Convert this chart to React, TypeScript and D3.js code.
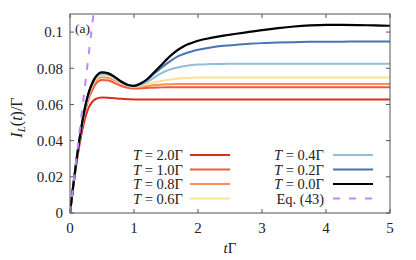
import React from 'react';
import * as d3 from 'd3';

// time grid (in units of 1/Γ)
const times = [0, 0.05, 0.1, 0.15, 0.2, 0.25, 0.3, 0.35, 0.4, 0.5, 0.6, 0.7, 0.8, 0.9, 1.0, 1.1, 1.2, 1.3, 1.4, 1.5, 1.6, 1.7, 1.8, 1.9, 2.0, 2.2, 2.4, 2.6, 2.8, 3.0, 3.25, 3.5, 3.75, 4.0, 4.25, 4.5, 4.75, 5.0];

const seriesT20 = [0, 0.014, 0.027, 0.038, 0.047, 0.054, 0.0588, 0.0615, 0.063, 0.0638, 0.0637, 0.0634, 0.0631, 0.0629, 0.0628, 0.0627, 0.0627, 0.0627, 0.0627, 0.0627, 0.0627, 0.0627, 0.0627, 0.0627, 0.0627, 0.0627, 0.0627, 0.0627, 0.0627, 0.0627, 0.0627, 0.0627, 0.0627, 0.0627, 0.0627, 0.0627, 0.0627, 0.0627];
const seriesT10 = [0, 0.015, 0.028, 0.04, 0.05, 0.058, 0.064, 0.068, 0.0712, 0.0735, 0.0732, 0.0718, 0.0702, 0.0692, 0.0688, 0.0689, 0.0691, 0.0693, 0.0694, 0.0695, 0.0695, 0.0695, 0.0695, 0.0695, 0.0695, 0.0695, 0.0695, 0.0695, 0.0695, 0.0695, 0.0695, 0.0695, 0.0695, 0.0695, 0.0695, 0.0695, 0.0695, 0.0695];
const seriesT08 = [0, 0.015, 0.0285, 0.0405, 0.0505, 0.059, 0.0652, 0.0697, 0.0727, 0.075, 0.0747, 0.0733, 0.0716, 0.0702, 0.0697, 0.0698, 0.0702, 0.0706, 0.0709, 0.0711, 0.0712, 0.0713, 0.0713, 0.0713, 0.0713, 0.0713, 0.0713, 0.0713, 0.0713, 0.0713, 0.0713, 0.0713, 0.0713, 0.0713, 0.0713, 0.0713, 0.0713, 0.0713];
const seriesT06 = [0, 0.015, 0.0288, 0.0408, 0.051, 0.0598, 0.0662, 0.0708, 0.0738, 0.0762, 0.0758, 0.0741, 0.072, 0.0703, 0.0698, 0.0703, 0.0712, 0.072, 0.0728, 0.0734, 0.0739, 0.0743, 0.0746, 0.0748, 0.0749, 0.0749, 0.0749, 0.0749, 0.0749, 0.0749, 0.0749, 0.0749, 0.0749, 0.0749, 0.0749, 0.0749, 0.0749, 0.0749];
const seriesT04 = [0, 0.015, 0.0289, 0.041, 0.0515, 0.0602, 0.0668, 0.0714, 0.0746, 0.077, 0.0765, 0.0747, 0.0724, 0.0706, 0.0701, 0.0708, 0.0723, 0.0745, 0.0768, 0.0785, 0.0797, 0.0806, 0.0813, 0.0818, 0.0821, 0.0823, 0.0824, 0.0825, 0.0825, 0.0825, 0.0825, 0.0825, 0.0825, 0.0825, 0.0825, 0.0825, 0.0825, 0.0825];
const seriesT02 = [0, 0.015, 0.029, 0.041, 0.0518, 0.0606, 0.0672, 0.0718, 0.075, 0.0775, 0.077, 0.075, 0.0726, 0.0708, 0.0702, 0.0713, 0.0735, 0.0765, 0.0795, 0.0823, 0.0848, 0.0868, 0.0882, 0.0893, 0.0902, 0.0915, 0.0924, 0.093, 0.0935, 0.0939, 0.0942, 0.0944, 0.0946, 0.0947, 0.0947, 0.0948, 0.0948, 0.0948];
const seriesT00 = [0, 0.015, 0.029, 0.0412, 0.052, 0.061, 0.0675, 0.072, 0.0752, 0.0778, 0.0772, 0.0752, 0.0727, 0.0709, 0.0703, 0.0716, 0.0738, 0.0772, 0.0808, 0.0845, 0.0878, 0.0905, 0.0926, 0.094, 0.0952, 0.0968, 0.098, 0.0991, 0.1001, 0.1011, 0.1022, 0.1031, 0.1037, 0.104, 0.104, 0.1039, 0.1037, 0.1035];

// Eq. (43): linear short-time growth
const eqTimes = [0, 0.4];
const eqValues = [0, 0.12];

const tempValues = ['2.0', '1.0', '0.8', '0.6', '0.4', '0.2', '0.0'];
const colors = ['#d7301f', '#ef5a3a', '#fc8d59', '#fee090', '#91bfdb', '#4575b4', '#000000'];
const allSeries = [seriesT20, seriesT10, seriesT08, seriesT06, seriesT04, seriesT02, seriesT00];

const xTicks = [0, 1, 2, 3, 4, 5];
const yTicks = [0, 0.02, 0.04, 0.06, 0.08, 0.1];

const W = 416;
const H = 260;
const margin = { left: 70, right: 26, top: 14, bottom: 47 };
const font = '"Liberation Serif", "DejaVu Serif", serif';
const axisColor = '#555';

export default function App() {
  const x = d3.scaleLinear().domain([0, 5]).range([margin.left, W - margin.right]);
  const y = d3.scaleLinear().domain([0, 0.11]).range([H - margin.bottom, margin.top]);

  const line = d3.line<[number, number]>()
    .x(d => x(d[0]))
    .y(d => y(d[1]))
    .curve(d3.curveMonotoneX);

  const x0 = x.range()[0], x1 = x.range()[1];
  const y0 = y.range()[0], y1 = y.range()[1];

  // legend layout
  const rowY = (i: number) => 155 + i * 14.5;
  const legendItems = tempValues.map((temp, i) => ({
    temp,
    color: colors[i],
    col: i < 4 ? 0 : 1,
    row: i < 4 ? i : i - 4,
  }));
  const colText = [183, 324];
  const colLine = [[190, 230], [333, 373]];

  return (
    <svg width={W} height={H} style={{ position: 'absolute', left: 0, top: 0, background: '#fff' }}
      fontFamily={font}>
      <defs>
        <clipPath id="plot">
          <rect x={x0} y={y1} width={x1 - x0} height={y0 - y1} />
        </clipPath>
      </defs>

      {/* ticks */}
      {xTicks.map(t => (
        <g key={'xt' + t} stroke={axisColor} strokeWidth={1}>
          <line x1={x(t)} x2={x(t)} y1={y0} y2={y0 - 4} />
          <line x1={x(t)} x2={x(t)} y1={y1} y2={y1 + 4} />
        </g>
      ))}
      {yTicks.map(t => (
        <g key={'yt' + t} stroke={axisColor} strokeWidth={1}>
          <line x1={x0} x2={x0 + 4} y1={y(t)} y2={y(t)} />
          <line x1={x1} x2={x1 - 4} y1={y(t)} y2={y(t)} />
        </g>
      ))}

      {/* tick labels */}
      {xTicks.map(t => (
        <text key={'xl' + t} x={x(t)} y={y0 + 20} textAnchor="middle" fontSize={15} fill="#222">{t}</text>
      ))}
      {yTicks.map(t => (
        <text key={'yl' + t} x={x0 - 7} y={y(t)} dy="0.35em" textAnchor="end" fontSize={15} fill="#222">{t === 0 ? '0' : d3.format('.2~f')(t)}</text>
      ))}

      {/* curves */}
      <g clipPath="url(#plot)">
        {allSeries.map((s, i) => (
          <path key={'c' + i} d={line(times.map((t, j) => [t, s[j]] as [number, number])) || ''}
            fill="none" stroke={colors[i]} strokeWidth={i === 6 ? 2.2 : 2} />
        ))}
        <path d={line(eqTimes.map((t, j) => [t, eqValues[j]] as [number, number])) || ''}
          fill="none" stroke="#bb88ff" strokeWidth={2} strokeDasharray="7,9" />
      </g>

      {/* frame */}
      <rect x={x0} y={y1} width={x1 - x0} height={y0 - y1} fill="none" stroke={axisColor} strokeWidth={1} />

      <text x={75} y={33} fontSize={13.5} fill="#222">(a)</text>

      {/* legend */}
      {legendItems.map((d, i) => (
        <g key={'lg' + i}>
          <text x={colText[d.col]} y={rowY(d.row)} dy="0.35em" textAnchor="end" fontSize={14.5} fill="#222">
            <tspan fontStyle="italic">T</tspan> = {d.temp}Γ
          </text>
          <line x1={colLine[d.col][0]} x2={colLine[d.col][1]} y1={rowY(d.row)} y2={rowY(d.row)}
            stroke={d.color} strokeWidth={2} />
        </g>
      ))}
      <text x={colText[1]} y={rowY(3)} dy="0.35em" textAnchor="end" fontSize={14.5} fill="#222">Eq.  (43)</text>
      <line x1={colLine[1][0]} x2={colLine[1][1]} y1={rowY(3)} y2={rowY(3)}
        stroke="#bb88ff" strokeWidth={2} strokeDasharray="7,9" />

      {/* axis titles */}
      <text x={x(2.5)} y={253} textAnchor="middle" fontSize={15} fill="#222">
        <tspan fontStyle="italic">t</tspan>Γ
      </text>
      <text transform={`translate(22,${(y0 + y1) / 2 + 4}) rotate(-90)`} textAnchor="middle" fontSize={16} fill="#222">
        <tspan fontStyle="italic">I</tspan><tspan fontStyle="italic" fontSize={11} dy={3}>L</tspan><tspan dy={-3}>(</tspan><tspan fontStyle="italic">t</tspan>)/Γ
      </text>
    </svg>
  );
}
